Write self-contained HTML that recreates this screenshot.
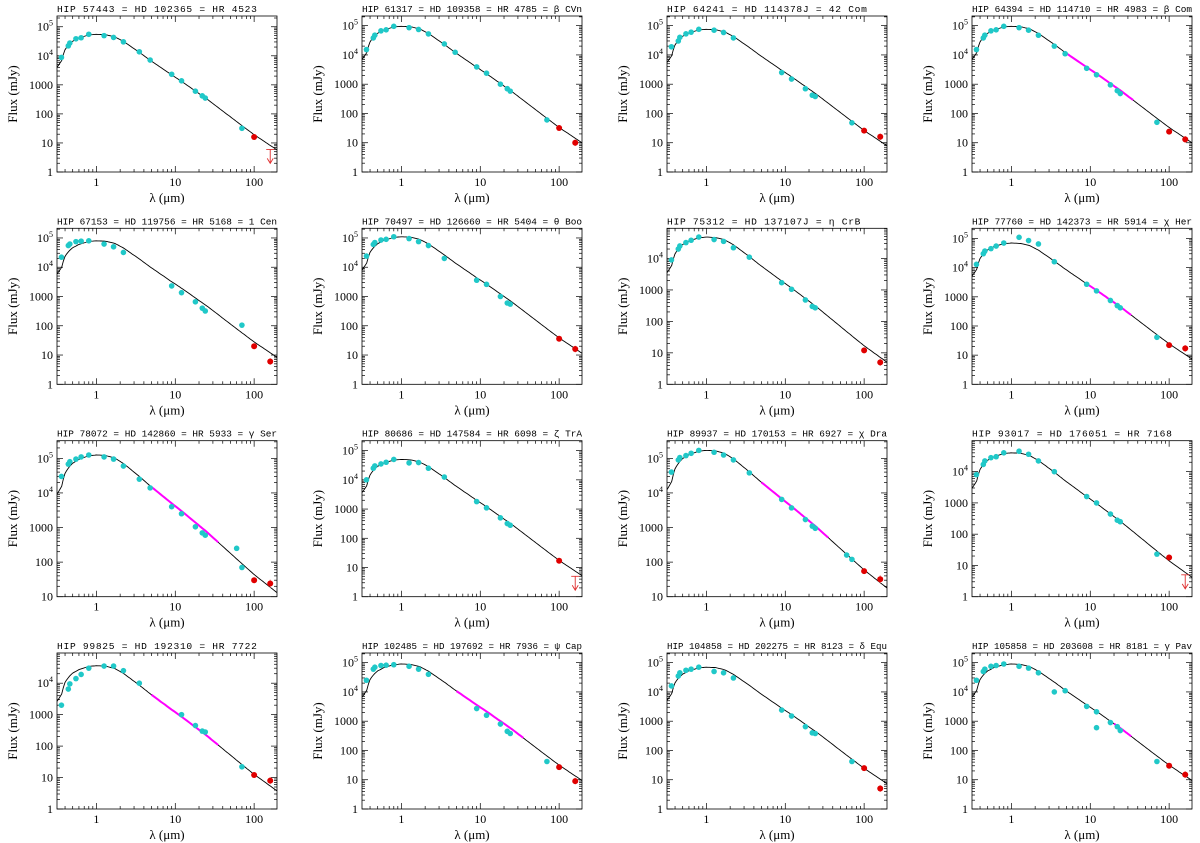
<!DOCTYPE html>
<html><head><meta charset="utf-8">
<style>
html,body{margin:0;padding:0;background:#fff;}
svg{display:block;}
.t{font-family:"Liberation Mono",monospace;font-size:9.6px;}
.s{font-family:"Liberation Serif",serif;}
</style></head>
<body>
<svg id="fig" width="1200" height="843" viewBox="0 0 1200 843" xmlns="http://www.w3.org/2000/svg"></svg>
<script>
// ---- data ----
const titles = [
"HIP 57443 = HD 102365 = HR 4523",
"HIP 61317 = HD 109358 = HR 4785 = β CVn",
"HIP 64241 = HD 114378J = 42 Com",
"HIP 64394 = HD 114710 = HR 4983 = β Com",
"HIP 67153 = HD 119756 = HR 5168 = 1 Cen",
"HIP 70497 = HD 126660 = HR 5404 = θ Boo",
"HIP 75312 = HD 137107J = η CrB",
"HIP 77760 = HD 142373 = HR 5914 = χ Her",
"HIP 78072 = HD 142860 = HR 5933 = γ Ser",
"HIP 80686 = HD 147584 = HR 6098 = ζ TrA",
"HIP 89937 = HD 170153 = HR 6927 = χ Dra",
"HIP 93017 = HD 176051 = HR 7168",
"HIP 99825 = HD 192310 = HR 7722",
"HIP 102485 = HD 197692 = HR 7936 = ψ Cap",
"HIP 104858 = HD 202275 = HR 8123 = δ Equ",
"HIP 105858 = HD 203608 = HR 8181 = γ Pav"];
const yMinLog = [0,0,0,0, 0,0,0,0, 1,0,1,0, 0,0,0,0];
const yMaxLog = [5.37,5.33,5.33,5.33, 5.33,5.33,4.96,5.35, 5.51,5.34,5.51,4.99, 4.96,5.33,5.33,5.33];
const modelPeak = [55000,95000,75000,95000, 80000,110000,48000,70000, 125000,50000,170000,40000, 36000,90000,70000,90000];
const templateWave = [0.3,0.36,0.37,0.38,0.4,0.45,0.5,0.6,0.8,1.0,1.3,1.7,2.2,3.5,4.8,9,12,25,70,100,200];
const templateRel = [0.06,0.12,0.14,0.2,0.3,0.45,0.58,0.75,0.95,1.0,0.97,0.82,0.57,0.24,0.128,0.04,0.024,0.006,0.00072,0.00035,0.0001];
const cyanWave = [0.36,0.44,0.46,0.55,0.64,0.8,1.25,1.65,2.2,3.5,4.8,9,12,18,22,24,70];
const cyanFlux = [
[8800,22000,27500,38500,41800,55000,49500,42900,30250,13750,7150,2310,1375,605,418,352,32],
[15200,38000,47500,66500,72200,95000,85500,74100,52250,23750,12350,3900,2375,1000,700,580,60],
[19000,30000,40000,52500,60000,75000,70000,58500,38000,null,null,2500,1500,700,420,380,48],
[15200,38000,47500,66500,72200,95000,85500,70000,47000,20000,11000,3500,2100,950,600,480,50],
[22000,55000,62000,75000,78000,80000,62000,50000,32000,null,null,2300,1350,660,400,320,105],
[24000,60000,70000,85000,90000,110000,95000,75000,55000,20000,null,3600,2600,1000,600,550,null],
[9000,20000,25000,32000,38000,48000,40000,35000,22000,11000,null,1700,1050,480,300,270,null],
[13000,30000,37000,45000,55000,70000,110000,85000,65000,16000,null,2700,1600,750,500,420,41],
[30000,68000,80000,95000,110000,125000,110000,95000,60000,25000,14000,4000,2500,1050,700,600,70],
[10000,25000,30000,35000,40000,50000,38000,39000,25000,12500,null,1800,1100,500,320,280,null],
[40000,90000,105000,120000,140000,170000,150000,125000,90000,38000,null,6500,3700,1700,1100,950,120],
[8000,17000,22000,28000,30000,40000,45000,36000,22000,10000,null,1600,1000,440,280,250,23],
[2000,6500,9500,14000,19000,30000,35000,35000,25000,10000,null,null,1000,450,300,280,22],
[25000,60000,70000,80000,82000,85000,75000,60000,40000,null,null,2700,1600,800,450,380,42],
[16000,35000,45000,55000,60000,70000,50000,45000,30000,null,null,2400,1500,650,400,380,42],
[25000,50000,60000,75000,80000,90000,75000,65000,45000,10000,11000,3200,2100,900,650,480,42]];
const extraWave = [null,null,null,null, null,null,null,null, 60,null,60,null, null,null,null,12];
const extraFlux = [null,null,null,null, null,null,null,null, 250,null,160,null, null,null,null,600];
const redFlux100 = [16,32,26,24, 20,36,12,22, 30,17,55,18, 12,27,25,30];
const redFlux160 = [null,10,16,13, 6,16,5,17, 24,null,32,null, 8,9,5,15];
const upper160 = [6,null,null,null, null,null,null,null, null,5,null,5, null,null,null,null];
const magStart = [null,null,null,5, null,null,null,9, 5,null,5,null, 5,5,null,20];
const magEnd = [null,null,null,35, null,null,null,33, 35,null,35,null, 35,35,null,33];
// ---- layout ----
const colX = [57,362,667,972], rowY = [16,228.3,440.7,653], W = 220, H = 156;
const XMIN = -0.5, XMAX = 2.29;
const NS = "http://www.w3.org/2000/svg";
const svg = document.getElementById('fig');
function mk(tag, attrs, parent){const e=document.createElementNS(NS,tag);for(const k in attrs)e.setAttribute(k,attrs[k]);(parent||svg).appendChild(e);return e;}
function interpRel(lw){
  const lx = templateWave.map(Math.log10), ly = templateRel.map(Math.log10);
  if(lw<=lx[0]) return ly[0];
  for(let i=1;i<lx.length;i++){ if(lw<=lx[i]){const t=(lw-lx[i-1])/(lx[i]-lx[i-1]);return ly[i-1]+t*(ly[i]-ly[i-1]);} }
  const n=lx.length-1; return ly[n]+(lw-lx[n])*(ly[n]-ly[n-1])/(lx[n]-lx[n-1]);
}
for(let p=0;p<16;p++){
  const x0 = colX[p%4], y0 = rowY[Math.floor(p/4)];
  const ymin=yMinLog[p], ymax=yMaxLog[p];
  const sx = v => x0 + (Math.log10(v)-XMIN)/(XMAX-XMIN)*W;
  const sy = v => y0 + H - (Math.log10(v)-ymin)/(ymax-ymin)*H;
  const g = mk('g',{});
  
  
  const cid='c'+p;
  const cp = mk('clipPath',{id:cid},g); mk('rect',{x:x0,y:y0,width:W,height:H},cp);
  const title = mk('text',{x:x0,y:y0-4,class:'t',fill:'#000'},g); title.textContent = titles[p];
  
  
  const tw = title.getComputedTextLength();
  if(tw>W){ title.setAttribute('textLength',W); title.setAttribute('lengthAdjust','spacingAndGlyphs'); }
  else if(tw<W-20){ title.setAttribute('textLength',Math.min(W-20, tw*1.12)); title.setAttribute('lengthAdjust','spacing'); }
  const box = mk('rect',{x:x0,y:y0,width:W,height:H,fill:'none',stroke:'#000','stroke-width':0.8},g);
  
  
  // x ticks
  for(let d=-1; d<=2; d++){ for(let m=1;m<=9;m++){ const v=m*Math.pow(10,d); const lv=Math.log10(v); if(lv<XMIN||lv>XMAX) continue;
    const X=sx(v), L = m===1?6:3;
    mk('line',{x1:X,x2:X,y1:y0+H,y2:y0+H-L,stroke:'#000','stroke-width':0.7},g);
    mk('line',{x1:X,x2:X,y1:y0,y2:y0+L,stroke:'#000','stroke-width':0.7},g);
    if(m===1 && d>=0){ const tl=mk('text',{x:X,y:y0+H+14,'text-anchor':'middle',class:'s','font-size':12},g); tl.textContent=String(v);
      
       }
  }}
  // y ticks
  for(let d=Math.floor(ymin); d<=6; d++){ for(let m=1;m<=9;m++){ const v=m*Math.pow(10,d); const lv=Math.log10(v); if(lv<ymin-1e-9||lv>ymax) continue;
    const Y=sy(v), L = m===1?6:3;
    mk('line',{x1:x0,x2:x0+L,y1:Y,y2:Y,stroke:'#000','stroke-width':0.7},g);
    mk('line',{x1:x0+W,x2:x0+W-L,y1:Y,y2:Y,stroke:'#000','stroke-width':0.7},g);
    if(m===1){ const tl=mk('text',{x:x0-4,y:Y+4,'text-anchor':'end',class:'s','font-size':12},g);
      if(d<4) tl.textContent=String(v); else { tl.textContent='10'; const sp=mk('tspan',{dy:-5,'font-size':8},tl); sp.textContent=String(d); }
      
       }
  }}
  const xl = mk('text',{x:x0+W/2,y:y0+H+30,'text-anchor':'middle',class:'s','font-size':13},g); xl.textContent='λ (μm)';
  
  
  const yl = mk('text',{x:0,y:0,'text-anchor':'middle',class:'s','font-size':13,transform:`translate(${x0-40},${y0+H/2}) rotate(-90)`},g); yl.textContent='Flux (mJy)';
  
  
  const inner = mk('g',{'clip-path':`url(#${cid})`},g);
  // model
  let d='';
  for(let i=0;i<=140;i++){ const lw = XMIN + (XMAX-XMIN)*i/140; const f = modelPeak[p]*Math.pow(10,interpRel(lw));
    d += (i?'L':'M')+sx(Math.pow(10,lw)).toFixed(1)+','+sy(f).toFixed(1); }
  const ml = mk('path',{d:d,fill:'none',stroke:'#000','stroke-width':0.9},inner);
  
  
  // magenta spectrum
  if(magStart[p]!==null){ let dm='';
    for(let i=0;i<=30;i++){ const lw=Math.log10(magStart[p])+(Math.log10(magEnd[p])-Math.log10(magStart[p]))*i/30;
      const f=modelPeak[p]*Math.pow(10,interpRel(lw)); dm+=(i?'L':'M')+sx(Math.pow(10,lw)).toFixed(1)+','+sy(f).toFixed(1); }
    const mg = mk('path',{d:dm,fill:'none',stroke:'#ff00ff','stroke-width':2},inner);
    
    
  }
  // cyan points
  cyanWave.forEach((w,i)=>{ const f=cyanFlux[p][i]; if(f===null) return;
    const X=sx(w),Y=sy(f);
    mk('line',{x1:X,x2:X,y1:sy(f*1.15),y2:sy(f/1.15),stroke:'#20c8c8','stroke-width':1},inner);
    const c = mk('circle',{cx:X,cy:Y,r:2.8,fill:'#20c8c8'},inner);
    
    
  });
  if(extraWave[p]!==null){ const c=mk('circle',{cx:sx(extraWave[p]),cy:sy(extraFlux[p]),r:2.8,fill:'#20c8c8'},inner);
    
     }
  // red points
  const r1 = mk('circle',{cx:sx(100),cy:sy(redFlux100[p]),r:3,fill:'#e00000'},inner);
  
  
  if(redFlux160[p]!==null){ const X=sx(160),Y=sy(redFlux160[p]);
    mk('line',{x1:X,x2:X,y1:sy(redFlux160[p]*1.3),y2:sy(redFlux160[p]/1.3),stroke:'#f08080','stroke-width':1},inner);
    const r2 = mk('circle',{cx:X,cy:Y,r:3,fill:'#e00000'},inner);
    
     }
  if(upper160[p]!==null){ const X=sx(160),Y=sy(upper160[p]);
    const ua = mk('path',{d:`M${X-4},${Y}L${X+4},${Y}M${X},${Y}L${X},${Y+14}M${X-3},${Y+9}L${X},${Y+14}L${X+3},${Y+9}`,fill:'none',stroke:'#e03030','stroke-width':0.9},inner);
    
     }
}
</script>
</body></html>
